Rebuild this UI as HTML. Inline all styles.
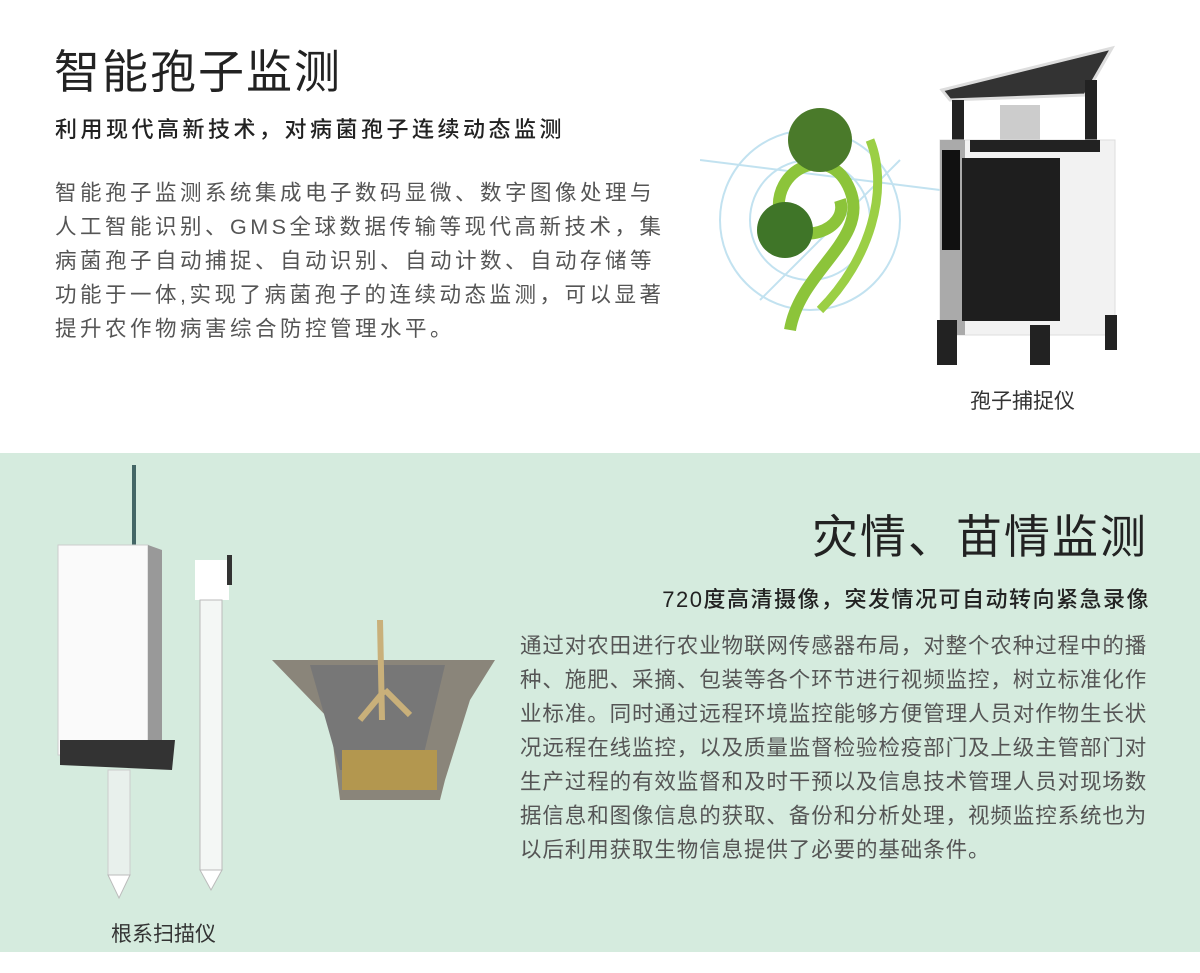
<!DOCTYPE html>
<html><head><meta charset="utf-8"><style>
*{margin:0;padding:0;box-sizing:border-box}
body{width:1200px;height:973px;background:#fff;position:relative;overflow:hidden;font-family:"Liberation Sans","Noto Sans CJK SC",sans-serif;color:#333}
.a{position:absolute;white-space:nowrap}
.t{font-size:46px;color:#222;letter-spacing:2px}
.s{font-size:22px;color:#222;font-weight:500;letter-spacing:3.5px}
.b{font-size:21.5px;color:#555;line-height:34px}
#g{position:absolute;left:0;top:453px;width:1200px;height:499px;background:#d5ebde}
</style></head><body>
<div class="a t" style="left:54px;top:36px">智能孢子监测</div>
<div class="a s" style="left:55px;top:112px">利用现代高新技术，对病菌孢子连续动态监测</div>
<div class="a b" style="left:55px;top:176px;letter-spacing:3.5px">智能孢子监测系统集成电子数码显微、数字图像处理与<br>人工智能识别、GMS全球数据传输等现代高新技术，集<br>病菌孢子自动捕捉、自动识别、自动计数、自动存储等<br>功能于一体,实现了病菌孢子的连续动态监测，可以显著<br>提升农作物病害综合防控管理水平。</div>
<svg class="a" style="left:700px;top:40px" width="450" height="330">
 <g stroke="#a9d6ea" fill="none" stroke-width="2" opacity=".7"><circle cx="110" cy="180" r="90"/><circle cx="110" cy="180" r="60"/><line x1="0" y1="120" x2="240" y2="150"/><line x1="60" y1="260" x2="200" y2="120"/></g>
 <path d="M90 290 C100 230 170 200 150 150 C130 100 70 130 80 175 C95 210 150 190 140 160" stroke="#8cc43a" stroke-width="12" fill="none"/>
 <circle cx="120" cy="100" r="32" fill="#4a7a2a"/><circle cx="85" cy="190" r="28" fill="#3f7528"/>
 <path d="M120 270 C170 220 190 150 170 100" stroke="#9bcf45" stroke-width="9" fill="none"/>
 <polygon points="242,50 412,8 385,55 250,60" fill="#333" stroke="#ddd" stroke-width="3"/>
 <rect x="252" y="60" width="12" height="40" fill="#222"/><rect x="385" y="40" width="12" height="60" fill="#222"/>
 <rect x="300" y="65" width="40" height="40" fill="#ccc"/>
 <rect x="240" y="100" width="175" height="195" fill="#f2f2f2" stroke="#ddd"/>
 <rect x="240" y="100" width="25" height="195" fill="#aaa"/>
 <rect x="270" y="100" width="130" height="12" fill="#222"/>
 <rect x="262" y="118" width="98" height="163" fill="#1e1e1e"/>
 <rect x="242" y="110" width="18" height="100" fill="#111"/>
 <rect x="237" y="280" width="20" height="45" fill="#222"/><rect x="330" y="285" width="20" height="40" fill="#222"/><rect x="405" y="275" width="12" height="35" fill="#222"/>
</svg>
<div class="a" style="left:970px;top:385px;font-size:21px;color:#333">孢子捕捉仪</div>
<div id="g"></div>
<svg class="a" style="left:50px;top:460px" width="460" height="440">
 <rect x="82" y="5" width="4" height="80" fill="#466"/>
 <rect x="8" y="85" width="90" height="210" fill="#fafafa" stroke="#ccc"/>
 <path d="M98 85 L112 90 L112 290 L98 295Z" fill="#999"/>
 <polygon points="10,280 125,280 122,310 10,305" fill="#333"/>
 <rect x="58" y="310" width="22" height="105" fill="#e8f0ec" stroke="#ccc"/>
 <polygon points="58,415 80,415 69,438" fill="#fff" stroke="#bbb"/>
 <rect x="145" y="100" width="34" height="40" fill="#fff"/><rect x="177" y="95" width="5" height="30" fill="#333"/>
 <rect x="150" y="140" width="22" height="270" fill="#f4f7f5" stroke="#bbb"/>
 <polygon points="150,410 172,410 161,430" fill="#fff" stroke="#bbb"/>
 <polygon points="222,200 445,200 420,240 395,320 390,340 290,340 280,260" fill="#8a857a"/>
 <polygon points="260,205 395,205 370,310 290,310" fill="#777"/>
 <rect x="292" y="290" width="95" height="40" fill="#b3974f"/>
 <path d="M330 160 L332 260 M335 230 L310 260 M335 230 L360 255" stroke="#c9b07a" stroke-width="6" fill="none"/>
</svg>
<div class="a" style="left:111px;top:918px;font-size:21px;color:#333">根系扫描仪</div>
<div class="a t" style="right:52px;top:501px">灾情、苗情监测</div>
<div class="a s" style="right:50px;top:582px;letter-spacing:1.5px">720度高清摄像，突发情况可自动转向紧急录像</div>
<div class="a b" style="left:520px;top:629px;letter-spacing:0.9px">通过对农田进行农业物联网传感器布局，对整个农种过程中的播<br>种、施肥、采摘、包装等各个环节进行视频监控，树立标准化作<br>业标准。同时通过远程环境监控能够方便管理人员对作物生长状<br>况远程在线监控，以及质量监督检验检疫部门及上级主管部门对<br>生产过程的有效监督和及时干预以及信息技术管理人员对现场数<br>据信息和图像信息的获取、备份和分析处理，视频监控系统也为<br>以后利用获取生物信息提供了必要的基础条件。</div>
</body></html>
